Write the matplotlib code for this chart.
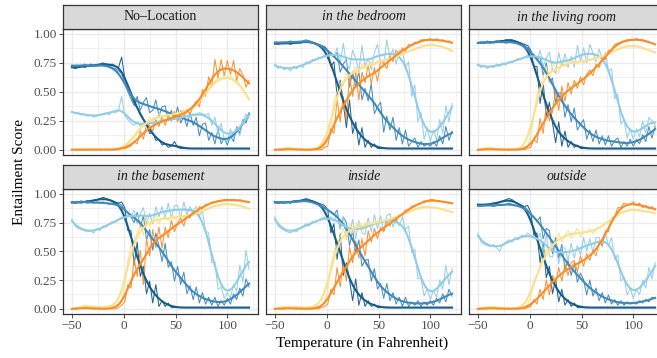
import numpy as np
import matplotlib
matplotlib.use("Agg")
import matplotlib.pyplot as plt
from matplotlib.ticker import FixedLocator, FormatStrFormatter

plt.rcParams['font.family'] = ['Liberation Serif', 'DejaVu Serif']

# temperatures (F), one reading every 3 degrees
temps = np.arange(-50, 123, 3)

panel_titles = ["No–Location", "in the bedroom", "in the living room",
                "in the basement", "inside", "outside"]
title_italic = [False, True, True, True, True, True]
line_colors = ["#175d8a", "#4089bb", "#92cde8", "#fde18a", "#fb8d29"]

noloc_dark = [0.72, 0.70, 0.71, 0.73, 0.71, 0.72, 0.74, 0.72, 0.73, 0.74,
              0.75, 0.74, 0.73, 0.74, 0.72, 0.71, 0.80, 0.62, 0.55, 0.47,
              0.40, 0.36, 0.30, 0.26, 0.22, 0.14, 0.15, 0.08, 0.09, 0.04,
              0.05, 0.02, 0.03, 0.07, 0.02, 0.01, 0.01, 0.01, 0.01, 0.01,
              0.01, 0.01, 0.01, 0.01, 0.01, 0.01, 0.01, 0.01, 0.01, 0.01,
              0.01, 0.01, 0.01, 0.01, 0.01, 0.01, 0.01, 0.01]
noloc_mid = [0.73, 0.72, 0.73, 0.72, 0.74, 0.73, 0.72, 0.73, 0.72, 0.73,
             0.74, 0.73, 0.72, 0.71, 0.70, 0.68, 0.66, 0.58, 0.50, 0.44,
             0.38, 0.46, 0.34, 0.41, 0.45, 0.32, 0.34, 0.43, 0.29, 0.37,
             0.38, 0.25, 0.34, 0.26, 0.37, 0.23, 0.29, 0.20, 0.32, 0.21,
             0.28, 0.12, 0.22, 0.23, 0.08, 0.15, 0.05, 0.18, 0.05, 0.10,
             0.04, 0.12, 0.07, 0.20, 0.14, 0.26, 0.23, 0.32]
noloc_light = [0.33, 0.31, 0.32, 0.30, 0.31, 0.29, 0.30, 0.28, 0.29, 0.30,
               0.31, 0.32, 0.30, 0.33, 0.32, 0.34, 0.46, 0.30, 0.26, 0.23,
               0.21, 0.24, 0.20, 0.23, 0.21, 0.24, 0.22, 0.25, 0.23, 0.26,
               0.24, 0.27, 0.25, 0.28, 0.26, 0.29, 0.27, 0.30, 0.29, 0.31,
               0.30, 0.32, 0.31, 0.30, 0.31, 0.21, 0.28, 0.14, 0.23, 0.09,
               0.07, 0.18, 0.10, 0.19, 0.12, 0.25, 0.31, 0.27]
noloc_yellow = [0.00, 0.00, 0.00, 0.00, 0.00, 0.00, 0.00, 0.00, 0.00, 0.00,
                0.00, 0.00, 0.00, 0.00, 0.00, 0.01, 0.01, 0.02, 0.04, 0.08,
                0.10, 0.16, 0.19, 0.24, 0.22, 0.28, 0.25, 0.27, 0.31, 0.28,
                0.30, 0.27, 0.31, 0.33, 0.29, 0.32, 0.34, 0.31, 0.35, 0.36,
                0.38, 0.41, 0.45, 0.49, 0.53, 0.56, 0.59, 0.63, 0.60, 0.65,
                0.62, 0.64, 0.60, 0.61, 0.56, 0.53, 0.48, 0.43]
noloc_orange = [0.00, 0.00, 0.00, 0.00, 0.00, 0.00, 0.00, 0.00, 0.00, 0.00,
                0.00, 0.00, 0.00, 0.00, 0.00, 0.00, 0.01, 0.01, 0.02, 0.03,
                0.07, 0.05, 0.16, 0.09, 0.22, 0.21, 0.16, 0.26, 0.20, 0.29,
                0.21, 0.29, 0.25, 0.33, 0.24, 0.34, 0.28, 0.35, 0.30, 0.38,
                0.42, 0.37, 0.52, 0.46, 0.63, 0.54, 0.78, 0.62, 0.78, 0.64,
                0.77, 0.65, 0.77, 0.60, 0.70, 0.65, 0.54, 0.60]

bed_dark = [0.92, 0.91, 0.92, 0.93, 0.92, 0.91, 0.92, 0.93, 0.92, 0.93,
            0.94, 0.94, 0.93, 0.92, 0.91, 0.90, 0.89, 0.86, 0.72, 0.76,
            0.46, 0.60, 0.40, 0.19, 0.43, 0.14, 0.24, 0.04, 0.19, 0.02,
            0.08, 0.02, 0.05, 0.01, 0.01, 0.01, 0.01, 0.01, 0.01, 0.01,
            0.01, 0.01, 0.01, 0.01, 0.01, 0.01, 0.01, 0.01, 0.01, 0.01,
            0.01, 0.01, 0.01, 0.01, 0.01, 0.01, 0.01, 0.01]
bed_mid = [0.93, 0.92, 0.93, 0.92, 0.93, 0.94, 0.93, 0.92, 0.93, 0.94,
           0.95, 0.94, 0.93, 0.92, 0.91, 0.90, 0.88, 0.86, 0.83, 0.80,
           0.84, 0.67, 0.74, 0.78, 0.54, 0.67, 0.54, 0.68, 0.43, 0.53,
           0.42, 0.57, 0.31, 0.37, 0.41, 0.15, 0.29, 0.17, 0.28, 0.08,
           0.19, 0.05, 0.17, 0.03, 0.07, 0.10, 0.02, 0.07, 0.03, 0.05,
           0.03, 0.07, 0.03, 0.12, 0.05, 0.20, 0.08, 0.16]
bed_light = [0.74, 0.70, 0.72, 0.69, 0.71, 0.68, 0.72, 0.70, 0.73, 0.71,
             0.76, 0.74, 0.78, 0.77, 0.80, 0.79, 0.82, 0.81, 0.83, 0.80,
             0.88, 0.74, 0.92, 0.74, 0.70, 0.86, 0.79, 0.68, 0.90, 0.72,
             0.79, 0.69, 0.84, 0.91, 0.76, 0.73, 0.95, 0.80, 0.87, 0.74,
             0.86, 0.86, 0.71, 0.76, 0.46, 0.56, 0.24, 0.32, 0.09, 0.19,
             0.07, 0.17, 0.08, 0.26, 0.14, 0.38, 0.24, 0.40]
bed_yellow = [0.00, 0.00, 0.00, 0.01, 0.02, 0.02, 0.01, 0.00, 0.00, 0.00,
              0.00, 0.00, 0.00, 0.00, 0.00, 0.01, 0.03, 0.08, 0.22, 0.42,
              0.50, 0.58, 0.55, 0.70, 0.60, 0.68, 0.72, 0.66, 0.74, 0.70,
              0.72, 0.76, 0.73, 0.77, 0.75, 0.78, 0.77, 0.79, 0.78, 0.81,
              0.81, 0.83, 0.84, 0.85, 0.86, 0.87, 0.88, 0.89, 0.90, 0.91,
              0.91, 0.91, 0.90, 0.90, 0.89, 0.88, 0.87, 0.85]
bed_orange = [0.00, 0.00, 0.00, 0.00, 0.01, 0.01, 0.00, 0.00, 0.00, 0.00,
              0.00, 0.00, 0.00, 0.00, 0.00, 0.00, 0.02, 0.03, 0.18, 0.14,
              0.44, 0.24, 0.46, 0.25, 0.65, 0.46, 0.67, 0.43, 0.67, 0.58,
              0.73, 0.57, 0.71, 0.59, 0.77, 0.75, 0.70, 0.81, 0.76, 0.86,
              0.81, 0.88, 0.85, 0.91, 0.90, 0.93, 0.92, 0.95, 0.95, 0.95,
              0.96, 0.94, 0.96, 0.94, 0.95, 0.93, 0.94, 0.92]

liv_dark = [0.92, 0.93, 0.92, 0.93, 0.92, 0.93, 0.94, 0.93, 0.94, 0.95,
            0.95, 0.95, 0.94, 0.93, 0.92, 0.91, 0.90, 0.86, 0.72, 0.72,
            0.40, 0.58, 0.28, 0.41, 0.23, 0.06, 0.24, 0.03, 0.16, 0.02,
            0.07, 0.02, 0.04, 0.01, 0.01, 0.01, 0.01, 0.01, 0.01, 0.01,
            0.01, 0.01, 0.01, 0.01, 0.01, 0.01, 0.01, 0.01, 0.01, 0.01,
            0.01, 0.01, 0.01, 0.01, 0.01, 0.01, 0.01, 0.01]
liv_mid = [0.92, 0.93, 0.92, 0.94, 0.93, 0.92, 0.93, 0.94, 0.93, 0.92,
           0.93, 0.94, 0.93, 0.92, 0.91, 0.90, 0.88, 0.85, 0.80, 0.78,
           0.80, 0.64, 0.75, 0.58, 0.62, 0.41, 0.49, 0.49, 0.28, 0.39,
           0.24, 0.36, 0.17, 0.22, 0.26, 0.09, 0.17, 0.07, 0.17, 0.05,
           0.12, 0.04, 0.12, 0.03, 0.08, 0.10, 0.02, 0.07, 0.03, 0.09,
           0.03, 0.09, 0.05, 0.13, 0.07, 0.20, 0.10, 0.20]
liv_light = [0.74, 0.71, 0.73, 0.70, 0.72, 0.71, 0.74, 0.72, 0.75, 0.73,
             0.76, 0.75, 0.77, 0.79, 0.78, 0.80, 0.82, 0.80, 0.83, 0.78,
             0.86, 0.72, 0.79, 0.84, 0.69, 0.66, 0.84, 0.72, 0.83, 0.71,
             0.81, 0.71, 0.90, 0.77, 0.88, 0.75, 0.91, 0.84, 0.76, 0.87,
             0.78, 0.84, 0.68, 0.70, 0.44, 0.48, 0.22, 0.26, 0.10, 0.18,
             0.09, 0.18, 0.11, 0.25, 0.14, 0.28, 0.25, 0.21]
liv_yellow = [0.00, 0.00, 0.01, 0.02, 0.02, 0.01, 0.00, 0.00, 0.00, 0.00,
              0.00, 0.00, 0.00, 0.00, 0.00, 0.01, 0.03, 0.12, 0.30, 0.48,
              0.55, 0.62, 0.72, 0.58, 0.76, 0.70, 0.66, 0.77, 0.72, 0.74,
              0.78, 0.74, 0.76, 0.77, 0.75, 0.78, 0.77, 0.79, 0.78, 0.80,
              0.80, 0.82, 0.83, 0.84, 0.86, 0.87, 0.88, 0.89, 0.90, 0.90,
              0.90, 0.90, 0.89, 0.88, 0.87, 0.86, 0.85, 0.84]
liv_orange = [0.00, 0.00, 0.00, 0.01, 0.01, 0.00, 0.00, 0.00, 0.00, 0.00,
              0.00, 0.00, 0.00, 0.00, 0.00, 0.00, 0.01, 0.02, 0.09, 0.06,
              0.27, 0.14, 0.39, 0.25, 0.33, 0.51, 0.34, 0.55, 0.42, 0.58,
              0.48, 0.60, 0.53, 0.63, 0.56, 0.65, 0.69, 0.64, 0.74, 0.71,
              0.79, 0.78, 0.86, 0.86, 0.91, 0.92, 0.93, 0.94, 0.95, 0.95,
              0.95, 0.96, 0.95, 0.95, 0.94, 0.93, 0.92, 0.91]

base_dark = [0.93, 0.92, 0.93, 0.92, 0.93, 0.94, 0.93, 0.94, 0.95, 0.96,
             0.97, 0.96, 0.95, 0.94, 0.93, 0.92, 0.93, 0.88, 0.68, 0.68,
             0.38, 0.58, 0.28, 0.37, 0.13, 0.24, 0.05, 0.21, 0.02, 0.07,
             0.02, 0.05, 0.01, 0.01, 0.01, 0.01, 0.01, 0.01, 0.01, 0.01,
             0.01, 0.01, 0.01, 0.01, 0.01, 0.01, 0.01, 0.01, 0.01, 0.01,
             0.01, 0.01, 0.01, 0.01, 0.01, 0.01, 0.01, 0.01]
base_mid = [0.93, 0.92, 0.93, 0.94, 0.93, 0.92, 0.93, 0.92, 0.93, 0.92,
            0.93, 0.92, 0.91, 0.92, 0.91, 0.92, 0.90, 0.86, 0.84, 0.80,
            0.75, 0.84, 0.71, 0.81, 0.60, 0.69, 0.51, 0.66, 0.55, 0.41,
            0.57, 0.36, 0.41, 0.24, 0.37, 0.21, 0.32, 0.13, 0.20, 0.08,
            0.19, 0.05, 0.14, 0.04, 0.10, 0.03, 0.10, 0.02, 0.07, 0.03,
            0.09, 0.04, 0.13, 0.08, 0.18, 0.11, 0.26, 0.19]
base_light = [0.78, 0.72, 0.70, 0.69, 0.68, 0.67, 0.68, 0.66, 0.70, 0.68,
              0.72, 0.71, 0.74, 0.76, 0.75, 0.78, 0.80, 0.79, 0.82, 0.80,
              0.86, 0.74, 0.83, 0.88, 0.74, 0.83, 0.74, 0.89, 0.80, 0.89,
              0.79, 0.92, 0.79, 0.90, 0.90, 0.79, 0.93, 0.82, 0.89, 0.84,
              0.89, 0.81, 0.85, 0.68, 0.66, 0.40, 0.41, 0.17, 0.19, 0.09,
              0.14, 0.09, 0.21, 0.15, 0.38, 0.23, 0.51, 0.34]
base_yellow = [0.00, 0.00, 0.01, 0.02, 0.03, 0.03, 0.02, 0.01, 0.01, 0.01,
               0.01, 0.01, 0.02, 0.02, 0.02, 0.03, 0.06, 0.20, 0.42, 0.55,
               0.60, 0.66, 0.74, 0.64, 0.80, 0.72, 0.76, 0.82, 0.74, 0.79,
               0.80, 0.77, 0.81, 0.78, 0.80, 0.82, 0.79, 0.81, 0.82, 0.82,
               0.82, 0.84, 0.85, 0.86, 0.88, 0.89, 0.90, 0.90, 0.91, 0.91,
               0.92, 0.91, 0.91, 0.90, 0.90, 0.89, 0.88, 0.87]
base_orange = [0.00, 0.00, 0.00, 0.01, 0.01, 0.01, 0.00, 0.00, 0.00, 0.00,
               0.00, 0.00, 0.00, 0.00, 0.00, 0.01, 0.03, 0.06, 0.21, 0.18,
               0.44, 0.28, 0.51, 0.21, 0.61, 0.46, 0.69, 0.53, 0.71, 0.53,
               0.71, 0.62, 0.77, 0.67, 0.75, 0.79, 0.72, 0.82, 0.79, 0.86,
               0.83, 0.89, 0.87, 0.91, 0.91, 0.93, 0.93, 0.94, 0.94, 0.95,
               0.95, 0.95, 0.95, 0.94, 0.95, 0.94, 0.93, 0.93]

in_dark = [0.93, 0.92, 0.93, 0.92, 0.93, 0.92, 0.94, 0.93, 0.94, 0.95,
           0.96, 0.95, 0.94, 0.93, 0.92, 0.91, 0.90, 0.86, 0.66, 0.74,
           0.43, 0.65, 0.29, 0.40, 0.25, 0.07, 0.26, 0.03, 0.14, 0.02,
           0.07, 0.02, 0.04, 0.01, 0.01, 0.01, 0.01, 0.01, 0.01, 0.01,
           0.01, 0.01, 0.01, 0.01, 0.01, 0.01, 0.01, 0.01, 0.01, 0.01,
           0.01, 0.01, 0.01, 0.01, 0.01, 0.01, 0.01, 0.01]
in_mid = [0.93, 0.92, 0.93, 0.92, 0.93, 0.92, 0.93, 0.94, 0.93, 0.94,
          0.95, 0.94, 0.93, 0.92, 0.91, 0.90, 0.88, 0.86, 0.84, 0.82,
          0.86, 0.70, 0.80, 0.75, 0.55, 0.68, 0.49, 0.60, 0.37, 0.42,
          0.43, 0.24, 0.35, 0.17, 0.22, 0.09, 0.22, 0.07, 0.14, 0.04,
          0.10, 0.02, 0.10, 0.02, 0.06, 0.03, 0.07, 0.02, 0.06, 0.03,
          0.07, 0.03, 0.09, 0.05, 0.13, 0.06, 0.17, 0.11]
in_light = [0.80, 0.72, 0.70, 0.68, 0.67, 0.66, 0.68, 0.67, 0.70, 0.72,
            0.74, 0.72, 0.76, 0.75, 0.77, 0.79, 0.80, 0.78, 0.80, 0.76,
            0.83, 0.69, 0.80, 0.63, 0.65, 0.78, 0.61, 0.77, 0.66, 0.65,
            0.79, 0.67, 0.82, 0.70, 0.81, 0.67, 0.81, 0.83, 0.71, 0.79,
            0.72, 0.80, 0.69, 0.72, 0.49, 0.52, 0.26, 0.27, 0.11, 0.17,
            0.08, 0.16, 0.10, 0.25, 0.17, 0.38, 0.21, 0.35]
in_yellow = [0.00, 0.00, 0.01, 0.02, 0.02, 0.02, 0.01, 0.01, 0.01, 0.01,
             0.01, 0.01, 0.01, 0.02, 0.02, 0.03, 0.06, 0.16, 0.38, 0.50,
             0.58, 0.62, 0.70, 0.60, 0.74, 0.66, 0.72, 0.76, 0.66, 0.75,
             0.74, 0.73, 0.77, 0.74, 0.76, 0.77, 0.76, 0.78, 0.79, 0.80,
             0.81, 0.82, 0.83, 0.84, 0.86, 0.87, 0.88, 0.88, 0.89, 0.89,
             0.89, 0.88, 0.88, 0.87, 0.87, 0.86, 0.85, 0.84]
in_orange = [0.00, 0.00, 0.00, 0.00, 0.01, 0.01, 0.00, 0.00, 0.00, 0.00,
             0.00, 0.00, 0.00, 0.00, 0.00, 0.01, 0.02, 0.04, 0.17, 0.12,
             0.36, 0.19, 0.40, 0.24, 0.54, 0.40, 0.59, 0.44, 0.61, 0.46,
             0.68, 0.58, 0.70, 0.61, 0.71, 0.67, 0.76, 0.72, 0.79, 0.76,
             0.82, 0.81, 0.86, 0.86, 0.89, 0.90, 0.91, 0.92, 0.94, 0.94,
             0.95, 0.95, 0.94, 0.94, 0.93, 0.93, 0.92, 0.92]

out_dark = [0.91, 0.90, 0.91, 0.90, 0.91, 0.92, 0.91, 0.93, 0.94, 0.95,
            0.96, 0.95, 0.93, 0.91, 0.90, 0.89, 0.90, 0.84, 0.64, 0.66,
            0.40, 0.58, 0.27, 0.37, 0.13, 0.26, 0.06, 0.17, 0.03, 0.08,
            0.02, 0.05, 0.01, 0.01, 0.01, 0.01, 0.01, 0.01, 0.01, 0.01,
            0.01, 0.01, 0.01, 0.01, 0.01, 0.01, 0.01, 0.01, 0.01, 0.01,
            0.01, 0.01, 0.01, 0.01, 0.01, 0.01, 0.01, 0.01]
out_mid = [0.90, 0.89, 0.90, 0.91, 0.90, 0.89, 0.90, 0.91, 0.90, 0.91,
           0.92, 0.91, 0.90, 0.89, 0.90, 0.89, 0.86, 0.82, 0.80, 0.76,
           0.80, 0.61, 0.70, 0.68, 0.48, 0.62, 0.44, 0.56, 0.34, 0.42,
           0.29, 0.40, 0.23, 0.31, 0.25, 0.12, 0.25, 0.11, 0.18, 0.07,
           0.14, 0.05, 0.12, 0.04, 0.08, 0.03, 0.07, 0.03, 0.06, 0.04,
           0.05, 0.04, 0.07, 0.05, 0.08, 0.06, 0.10, 0.09]
out_light = [0.66, 0.58, 0.56, 0.55, 0.54, 0.56, 0.53, 0.50, 0.56, 0.58,
             0.60, 0.58, 0.62, 0.60, 0.64, 0.63, 0.66, 0.64, 0.62, 0.60,
             0.66, 0.51, 0.64, 0.46, 0.45, 0.57, 0.39, 0.53, 0.53, 0.42,
             0.57, 0.44, 0.55, 0.47, 0.62, 0.50, 0.61, 0.49, 0.62, 0.62,
             0.54, 0.66, 0.55, 0.62, 0.43, 0.47, 0.24, 0.28, 0.12, 0.18,
             0.09, 0.17, 0.12, 0.25, 0.18, 0.36, 0.26, 0.40]
out_yellow = [0.00, 0.00, 0.01, 0.02, 0.02, 0.02, 0.01, 0.00, 0.00, 0.00,
              0.00, 0.00, 0.00, 0.00, 0.00, 0.01, 0.04, 0.10, 0.24, 0.30,
              0.38, 0.44, 0.52, 0.48, 0.60, 0.56, 0.66, 0.58, 0.64, 0.68,
              0.62, 0.66, 0.70, 0.62, 0.67, 0.66, 0.70, 0.65, 0.69, 0.70,
              0.72, 0.74, 0.76, 0.78, 0.80, 0.82, 0.84, 0.85, 0.86, 0.86,
              0.87, 0.86, 0.86, 0.85, 0.85, 0.84, 0.84, 0.83]
out_orange = [0.00, 0.00, 0.00, 0.00, 0.01, 0.01, 0.00, 0.00, 0.00, 0.00,
              0.00, 0.00, 0.00, 0.00, 0.00, 0.00, 0.01, 0.02, 0.08, 0.04,
              0.17, 0.08, 0.25, 0.12, 0.29, 0.22, 0.36, 0.24, 0.39, 0.29,
              0.40, 0.42, 0.32, 0.46, 0.37, 0.48, 0.42, 0.51, 0.46, 0.59,
              0.55, 0.68, 0.67, 0.79, 0.80, 0.88, 0.88, 0.92, 0.91, 0.91,
              0.93, 0.90, 0.92, 0.88, 0.90, 0.87, 0.89, 0.86]

panels = [
    [noloc_dark, noloc_mid, noloc_light, noloc_yellow, noloc_orange],
    [bed_dark, bed_mid, bed_light, bed_yellow, bed_orange],
    [liv_dark, liv_mid, liv_light, liv_yellow, liv_orange],
    [base_dark, base_mid, base_light, base_yellow, base_orange],
    [in_dark, in_mid, in_light, in_yellow, in_orange],
    [out_dark, out_mid, out_light, out_yellow, out_orange],
]


def smooth(x, y, grid, bw=6.0):
    # local linear fit with gaussian weights, roughly like a loess line
    y = np.asarray(y, dtype=float)
    out = np.empty_like(grid)
    for k, x0 in enumerate(grid):
        w = np.exp(-0.5 * ((x - x0) / bw) ** 2)
        X = np.column_stack([np.ones_like(x, dtype=float), x - x0])
        A = X.T @ (X * w[:, None])
        b = X.T @ (w * y)
        out[k] = np.linalg.solve(A, b)[0]
    return out


W, H = 657, 358
fig = plt.figure(figsize=(W / 100, H / 100), dpi=100)


def box(x0, x1, y0, y1):
    return [x0 / W, 1 - y1 / H, (x1 - x0) / W, (y1 - y0) / H]


col_px = [(63, 258), (266, 461), (469, 664)]
row_px = [((5, 29), (29, 155)), ((165, 189), (189, 314))]
grid_x = np.linspace(-50, 121, 300)

for i, series in enumerate(panels):
    r, c = divmod(i, 3)
    (sx0, sx1) = col_px[c]
    strip_y, plot_y = row_px[r]

    ax = fig.add_axes(box(sx0, sx1, *plot_y))
    ax.set_xlim(-58.6, 129.6)
    ax.set_ylim(-0.046, 1.043)
    ax.xaxis.set_major_locator(FixedLocator([-50, 0, 50, 100]))
    ax.xaxis.set_minor_locator(FixedLocator([-25, 25, 75, 125]))
    ax.yaxis.set_major_locator(FixedLocator([0, 0.25, 0.5, 0.75, 1.0]))
    ax.yaxis.set_minor_locator(FixedLocator([0.125, 0.375, 0.625, 0.875]))
    ax.yaxis.set_major_formatter(FormatStrFormatter('%.2f'))
    ax.grid(True, which='major', color='#ebebeb', lw=1.0)
    ax.grid(True, which='minor', color='#ebebeb', lw=0.5)
    ax.set_axisbelow(True)
    ax.tick_params(which='minor', length=0)
    ax.tick_params(which='major', length=3, width=0.6, color='#333333',
                   labelsize=9.5, labelcolor='#4d4d4d', pad=1.5)
    for sp in ax.spines.values():
        sp.set_color('#333333')
        sp.set_linewidth(0.9)
    if c != 0:
        ax.tick_params(axis='y', length=0, labelleft=False)
    if r != 1:
        ax.tick_params(axis='x', length=0, labelbottom=False)

    for vals, col in zip(series, line_colors):
        ax.plot(temps, vals, color=col, lw=0.75, alpha=0.95)
    for vals, col in zip(series, line_colors):
        ax.plot(grid_x, smooth(temps, vals, grid_x), color=col, lw=1.5)

    sax = fig.add_axes(box(sx0, sx1, *strip_y))
    sax.set_facecolor('#d9d9d9')
    sax.set_xticks([])
    sax.set_yticks([])
    for sp in sax.spines.values():
        sp.set_color('#333333')
        sp.set_linewidth(0.9)
    sax.text(0.5, 0.5, panel_titles[i], transform=sax.transAxes,
             ha='center', va='center', fontsize=10, color='#1a1a1a',
             style='italic' if title_italic[i] else 'normal')

fig.text(362 / W, 1 - 343 / H, "Temperature (in Fahrenheit)",
         ha='center', va='center', fontsize=11)
fig.text(20 / W, 1 - 172 / H, "Entailment Score", rotation=90,
         ha='center', va='center', fontsize=11)

fig.savefig("out.png", dpi=100)
